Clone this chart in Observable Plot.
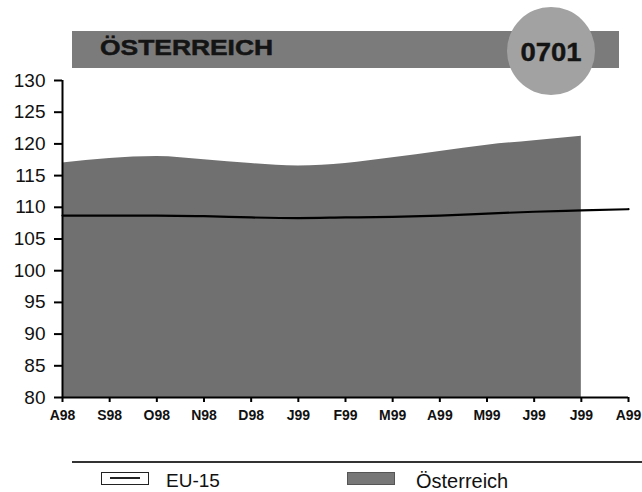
<!DOCTYPE html>
<html><head><meta charset="utf-8">
<script src="https://cdn.jsdelivr.net/npm/d3@7"></script>
<script src="https://cdn.jsdelivr.net/npm/@observablehq/plot@0.6"></script>
<style>
body{margin:0;background:#fff;font-family:"Liberation Sans",Arial,sans-serif;}
#wrap{position:relative;width:642px;height:492px;overflow:hidden;}
#bar{position:absolute;left:72px;top:31px;width:547px;height:37px;background:#7b7b7b;}
#bar span{position:absolute;left:28px;top:4px;font-weight:bold;font-size:22px;color:#141414;transform:scaleX(1.2);transform-origin:left;-webkit-text-stroke:0.5px #141414;}
#circ{position:absolute;left:507px;top:7px;width:88px;height:88px;border-radius:50%;background:#a2a2a2;}
#circ span{position:absolute;left:0;width:88px;text-align:center;top:31px;font-weight:bold;font-size:25px;color:#141414;transform:scaleX(1.1);-webkit-text-stroke:0.4px #141414;}
#chart{position:absolute;left:0;top:0;}
#hr{position:absolute;left:72px;top:461px;width:570px;height:1.5px;background:#333;}
.lg{position:absolute;top:470px;font-size:19px;color:#111;}
</style></head>
<body><div id="wrap">
<div id="chart"></div>
<div id="bar"><span>ÖSTERREICH</span></div>
<div id="circ"><span>0701</span></div>
<div id="hr"></div>
<div style="position:absolute;left:101px;top:472px;width:48px;height:13px;border:1.5px solid #222;box-sizing:border-box;"><div style="position:absolute;left:8px;right:8px;top:4px;height:1.5px;background:#222"></div></div>
<div class="lg" style="left:166px">EU-15</div>
<div style="position:absolute;left:347px;top:472px;width:48px;height:13px;background:#777;border:1px solid #555;box-sizing:border-box;"></div>
<div class="lg" style="left:416px;font-size:20px">Österreich</div>
</div>
<script>
const months = ["A98","S98","O98","N98","D98","J99","F99","M99","A99","M99","J99","J99","A99"];
const oesterreich = [117.0,117.7,118.0,117.5,116.9,116.5,116.9,117.8,118.8,119.8,120.5,121.2];
const eu15 = [108.7,108.7,108.7,108.6,108.4,108.3,108.4,108.5,108.7,109.0,109.3,109.5,109.7];
const yTicks = [80,85,90,95,100,105,110,115,120,125,130];

const areaData = oesterreich.map((v,i)=>({i, v}));
const lineData = eu15.map((v,i)=>({i, v}));

const plot = Plot.plot({
  width: 642, height: 492,
  marginLeft: 62, marginRight: 14, marginTop: 80, marginBottom: 95,
  style: {fontFamily: "'Liberation Sans', Arial, sans-serif", color: "#111", background: "transparent", overflow: "visible"},
  x: {domain: [0, 12]},
  y: {domain: [80, 130]},
  marks: [
    Plot.areaY(areaData, {x: "i", y1: 80, y2: "v", fill: "#707070", curve: "monotone-x"}),
    Plot.lineY(lineData, {x: "i", y: "v", stroke: "#000", strokeWidth: 2.2, curve: "monotone-x"}),
    Plot.ruleX([0], {stroke: "#000", strokeWidth: 2}),
    Plot.ruleY([80], {stroke: "#000", strokeWidth: 2}),
    Plot.axisY({ticks: yTicks, tickSize: 8, tickPadding: 9, fontSize: 19, stroke: "#000", strokeWidth: 2, tickFormat: d=>d, label: null}),
    Plot.axisX({ticks: d3.range(13), tickSize: 5, tickPadding: 8, fontSize: 14, fontWeight: "bold", stroke: "#000", strokeWidth: 2, tickFormat: i=>months[i], label: null})
  ]
});
document.getElementById("chart").appendChild(plot);
</script>
</body></html>
